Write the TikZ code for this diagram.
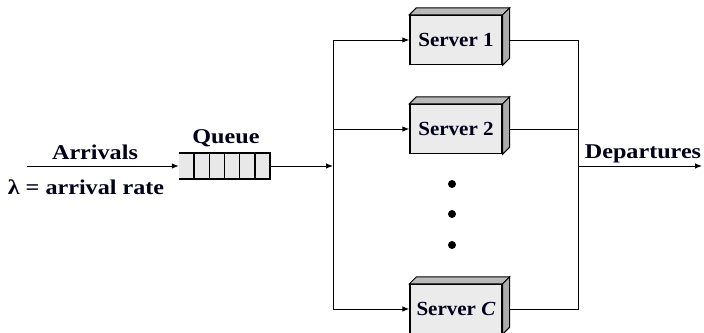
\documentclass[tikz,border=0pt]{standalone}
\usepackage{fontspec}
\setmainfont{Liberation Serif}
\usetikzlibrary{arrows.meta,calc}
\begin{document}
\begin{tikzpicture}[x=1pt,y=-1pt,
  every node/.style={text=black!90!blue},
  lbl/.style={font=\bfseries\fontsize{21}{24}\selectfont, anchor=base, inner sep=0, xscale=1.15},
  server/.style={draw, line width=1.3pt, fill=gray!16, minimum width=92pt,
    minimum height=49pt, inner sep=0, font=\bfseries\fontsize{20}{23}\selectfont},
  topface/.style={draw, line width=1pt, fill=gray!55},
  sideface/.style={draw, line width=1pt, fill=gray!65},
  conn/.style={line width=1pt},
  arr/.style={line width=1pt, -{Latex[length=7pt,width=5.5pt]}},
  qbox/.style={fill=gray!18, minimum width=91pt, minimum height=26pt, inner sep=0},
]
\useasboundingbox (0,0) rectangle (704,332);

% servers (front faces)
\node[server] (s1) at (456,40) {\scalebox{1.05}[1]{Server 1}};
\node[server] (s2) at (456,129) {\scalebox{1.05}[1]{Server 2}};
\node[server] (sc) at (456,309) {\scalebox{1.05}[1]{Server \textit{C}}};

% bevelled top and right faces of each server
\foreach \s in {s1,s2,sc}{
  \path[topface] (\s.north west) -- ([shift={(7,-7)}]\s.north west)
    -- ([shift={(7,-7)}]\s.north east) -- (\s.north east) -- cycle;
  \path[sideface] (\s.north east) -- ([shift={(7,-7)}]\s.north east)
    -- ([shift={(7,-7)}]\s.south east) -- (\s.south east) -- cycle;
}

% queue buffer
\node[qbox] (q) at (224.5,166) {};
\foreach \i in {1,...,5}
  \draw[line width=1.1pt] ($(q.north west)!\i/6!(q.north east)$) -- ($(q.south west)!\i/6!(q.south east)$);
\draw[line width=2.2pt] (q.north west) -- (q.north east) -- (q.south east) -- (q.south west);
\node[lbl] (qlabel) at (226,143) {Queue};

% arrivals
\coordinate (src) at (27,166);
\draw[arr] (src) -- (q.west);
\node[lbl] (arrivals) at (95,159) {Arrivals};
\node[lbl] (rate) at (86,194) {λ = arrival rate};

% dispatching bus on the left
\coordinate (lb) at (333,166);
\draw[arr] (q.east) -- (lb);
\draw[conn] (lb |- s1.west) -- (lb |- sc.west);
\draw[arr] (lb |- s1.west) -- (s1.west);
\draw[arr] (lb |- s2.west) -- (s2.west);
\draw[arr] (lb |- sc.west) -- (sc.west);

% dots between server 2 and server C
\foreach \y [count=\k] in {184,214,245}
  \fill (452,\y) coordinate (dot\k) circle (4pt);

% collecting bus on the right
\coordinate (rb) at (578,166);
\draw[conn] ([xshift=7]s1.east) -- (rb |- s1.east) -- (rb |- sc.east) -- ([xshift=7]sc.east);
\draw[conn] ([xshift=7]s2.east) -- (rb |- s2.east);

% departures
\coordinate (dst) at (702,166);
\draw[arr] (rb) -- (dst);
\node[lbl] (departures) at (643,158) {Departures};
\end{tikzpicture}
\end{document}
